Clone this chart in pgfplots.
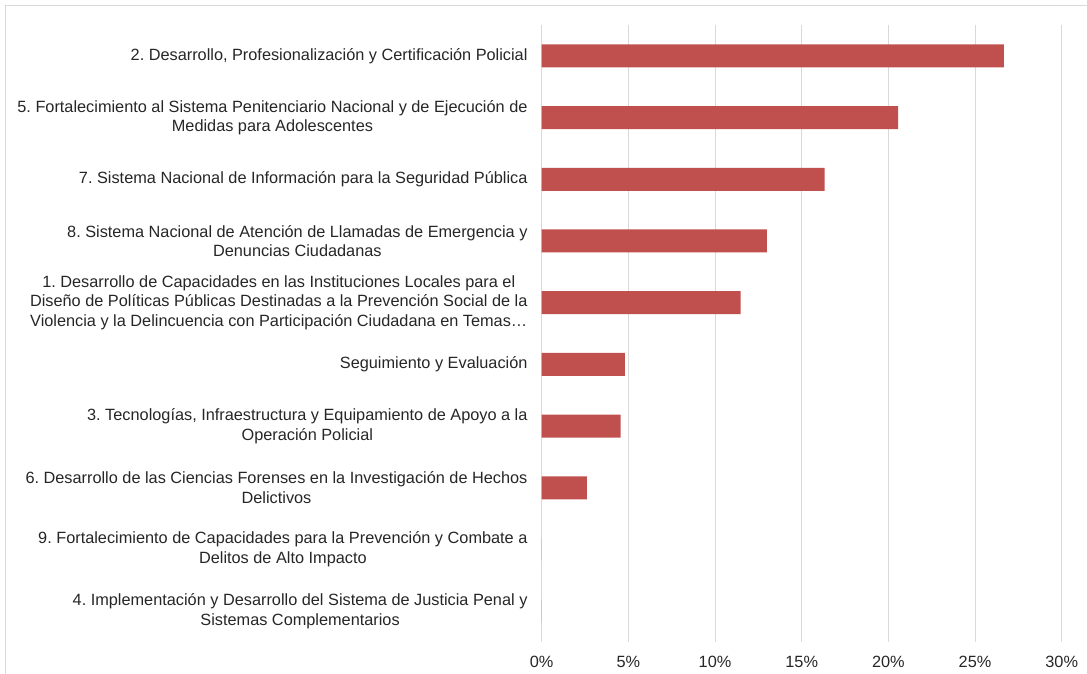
\documentclass[border=0pt]{standalone}
\usepackage{pgfplots}
\pgfplotsset{compat=1.18}
\usepackage{fontspec}
\setmainfont{Liberation Sans}
\frenchspacing
\definecolor{barred}{HTML}{C0504D}
\definecolor{gridgray}{HTML}{D9D9D9}
\begin{document}
\begin{tikzpicture}
\path[use as bounding box] (0,0) rectangle (1087bp,674bp);
\draw[gridgray, line width=1bp] (5.5bp,0) -- (5.5bp,668.5bp) -- (1087bp,668.5bp);
\begin{axis}[
    at={(541.7bp,32bp)}, anchor=south west,
    scale only axis,
    width=520bp, height=617bp,
    xbar, bar width=23bp,
    xmin=0, xmax=30,
    ymin=-0.5, ymax=9.5,
    y dir=reverse,
    axis line style={draw=none},
    major tick length=0pt,
    xmajorgrids=true,
    grid style={gridgray, line width=1bp},
    xtick={0,5,...,30},
    xticklabels={0\%,5\%,10\%,15\%,20\%,25\%,30\%},
    ytick={0,...,9},
    yticklabels={
        {2. Desarrollo, Profesionalización y Certificación Policial},
        {5. Fortalecimiento al Sistema Penitenciario Nacional y de Ejecución de\\Medidas para Adolescentes},
        {7. Sistema Nacional de Información para la Seguridad Pública},
        {8. Sistema Nacional de Atención de Llamadas de Emergencia y\\Denuncias Ciudadanas},
        {1. Desarrollo de Capacidades en las Instituciones Locales para el\\Diseño de Políticas Públicas Destinadas a la Prevención Social de la\\Violencia y la Delincuencia con Participación Ciudadana en Temas…},
        {Seguimiento y Evaluación},
        {3. Tecnologías, Infraestructura y Equipamiento de Apoyo a la\\Operación Policial},
        {6. Desarrollo de las Ciencias Forenses en la Investigación de Hechos\\Delictivos},
        {9. Fortalecimiento de Capacidades para la Prevención y Combate a\\Delitos de Alto Impacto},
        {4. Implementación y Desarrollo del Sistema de Justicia Penal y\\Sistemas Complementarios}
    },
    ticklabel style={font=\fontsize{16.3bp}{19.6bp}\selectfont, text=black!85},
    yticklabel style={align=center, inner sep=0pt, xshift=-14bp},
    xticklabel style={inner sep=0pt, yshift=-14bp},
]
\addplot[fill=barred, draw=none] coordinates {
    (26.66,0) (20.56,1) (16.32,2) (12.99,3) (11.48,4)
    (4.80,5) (4.56,6) (2.60,7) (0,8) (0,9)
};
\end{axis}
\end{tikzpicture}
\end{document}
